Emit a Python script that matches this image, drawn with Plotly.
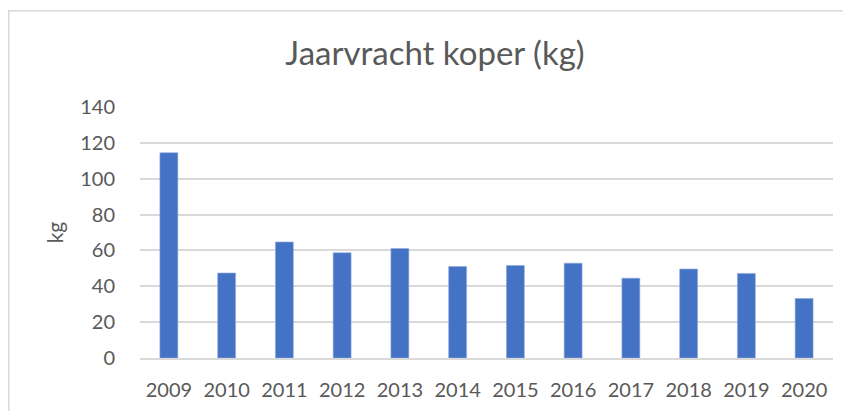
import plotly.graph_objects as go

years = ["2009", "2010", "2011", "2012", "2013", "2014", "2015", "2016", "2017", "2018", "2019", "2020"]
values = [114.5, 47.4, 64.7, 58.7, 61.1, 51.0, 51.6, 52.9, 44.5, 49.6, 47.2, 33.2]
y_ticks = [0, 20, 40, 60, 80, 100, 120, 140]

# page has an 8px body margin, so figure coords = page coords - 8
W, H = 835, 403
ml, mr, mt, mb = 132, 10, 99, 48
pw, ph = W - ml - mr, H - mt - mb

fig = go.Figure(go.Bar(x=years, y=values,
                       marker=dict(color="#4472C4", line=dict(width=0.6, color="#8faadc"))))

font = "Lato, Open Sans, sans-serif"
fig.update_layout(
    width=W, height=H,
    margin=dict(l=ml, r=mr, t=mt, b=mb),
    paper_bgcolor="white", plot_bgcolor="white",
    bargap=0.69,
    showlegend=False,
    title=dict(text="Jaarvracht koper (kg)", x=427 / W, xanchor="center", y=1 - 45 / H, yanchor="middle",
               font=dict(family=font, size=33, color="#595959")),
    font=dict(family=font, color="#595959"),
)
fig.update_xaxes(showgrid=False, showline=True, linecolor="#d9d9d9", linewidth=1.5,
                 ticks="outside", ticklen=13, tickcolor="rgba(0,0,0,0)",
                 tickfont=dict(family=font, size=20, color="#595959"))
fig.update_yaxes(range=[0, 140], tickvals=y_ticks, showgrid=True, gridcolor="#d9d9d9", gridwidth=1.5,
                 zeroline=False, showline=False,
                 ticks="outside", ticklen=20, tickcolor="rgba(0,0,0,0)",
                 tickfont=dict(family=font, size=20, color="#595959"),
                 title=dict(text="kg", font=dict(family=font, size=21, color="#595959"), standoff=10))

# chart border (cropped on right/bottom in reference)
fig.add_shape(type="rect", xref="paper", yref="paper",
              x0=(0.75 - ml) / pw, x1=(W + 20 - ml) / pw,
              y0=-(mb + 20) / ph, y1=(mt - 0.75 + ph) / ph,
              line=dict(color="#d9d9d9", width=1.5), fillcolor="rgba(0,0,0,0)", layer="below")

fig.write_html("out.html")
